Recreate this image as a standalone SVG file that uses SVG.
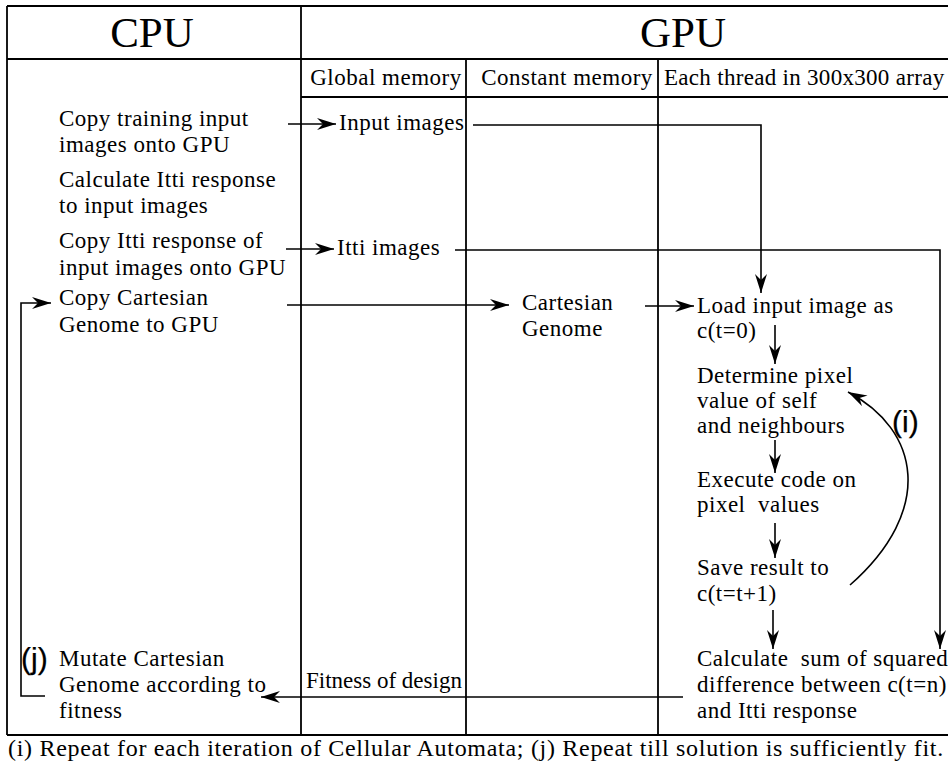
<svg xmlns="http://www.w3.org/2000/svg" width="948" height="762" viewBox="0 0 948 762">
<style>
  .t { font-family: "Liberation Serif", "Times New Roman", serif; font-size: 23px; fill: #000; letter-spacing: 0.5px; white-space: pre; }
  .h { font-family: "Liberation Serif", "Times New Roman", serif; font-size: 43px; fill: #000; text-anchor: middle; }
  .lbl { font-family: "Liberation Sans", Arial, sans-serif; font-size: 30px; fill: #000; stroke: #000; stroke-width: 0.25px; }
  .grid line { stroke: #000; stroke-width: 1.8; }
  .c path { fill: none; stroke: #000; stroke-width: 1.6; marker-end: url(#ah); }
</style>
<defs>
  <marker id="ah" markerUnits="userSpaceOnUse" markerWidth="19" markerHeight="13" viewBox="0 0 19 13" refX="19" refY="6.5" orient="auto">
    <path d="M19,6.5 L0,0.5 L6,6.5 L0,12.5 Z" fill="#000"/>
  </marker>
</defs>
<rect x="0" y="0" width="948" height="762" fill="#fff"/>
<g id="table" class="grid">
  <line x1="7" y1="6" x2="948" y2="6"/>
  <line x1="7" y1="59" x2="948" y2="59"/>
  <line x1="301" y1="97" x2="948" y2="97"/>
  <line x1="7" y1="735" x2="948" y2="735"/>
  <line x1="7" y1="6" x2="7" y2="735"/>
  <line x1="301" y1="6" x2="301" y2="735"/>
  <line x1="466" y1="59" x2="466" y2="735"/>
  <line x1="658" y1="59" x2="658" y2="735"/>
</g>
<g id="headers">
  <text class="h" x="152" y="47">CPU</text>
  <text class="h" x="683" y="47">GPU</text>
  <text class="t" x="386" y="85" text-anchor="middle">Global memory</text>
  <text class="t" x="567" y="85" text-anchor="middle">Constant memory</text>
  <text class="t" x="664" y="85" style="letter-spacing:0.3px">Each thread in 300x300 array</text>
</g>
<g id="cpu-copy-training">
  <text class="t" x="59" y="126">Copy training input</text>
  <text class="t" x="59" y="152">images onto GPU</text>
</g>
<g id="cpu-calc-itti">
  <text class="t" x="59" y="187">Calculate Itti response</text>
  <text class="t" x="59" y="213">to input images</text>
</g>
<g id="cpu-copy-itti">
  <text class="t" x="59" y="248">Copy Itti response of</text>
  <text class="t" x="59" y="275">input images onto GPU</text>
</g>
<g id="cpu-copy-genome">
  <text class="t" x="59" y="305">Copy Cartesian</text>
  <text class="t" x="59" y="332">Genome to GPU</text>
</g>
<g id="cpu-mutate">
  <text class="lbl" x="21" y="669">(j)</text>
  <text class="t" x="59" y="666">Mutate Cartesian</text>
  <text class="t" x="59" y="692">Genome according to</text>
  <text class="t" x="59" y="718">fitness</text>
</g>
<g id="gm-input">
  <text class="t" x="339" y="130">Input images</text>
</g>
<g id="gm-itti">
  <text class="t" x="337" y="255">Itti images</text>
</g>
<g id="gm-fitness">
  <text class="t" x="306" y="688" style="letter-spacing:0px">Fitness of design</text>
</g>
<g id="cm-genome">
  <text class="t" x="522" y="310">Cartesian</text>
  <text class="t" x="522" y="336">Genome</text>
</g>
<g id="th-load">
  <text class="t" x="697" y="313">Load input image as</text>
  <text class="t" x="697" y="338">c(t=0)</text>
</g>
<g id="th-determine">
  <text class="t" x="697" y="383">Determine pixel</text>
  <text class="t" x="697" y="408">value of self</text>
  <text class="t" x="697" y="433">and neighbours</text>
</g>
<g id="th-execute">
  <text class="t" x="697" y="487">Execute code on</text>
  <text class="t" x="697" y="512">pixel  values</text>
</g>
<g id="th-save">
  <text class="t" x="697" y="575">Save result to</text>
  <text class="t" x="697" y="601">c(t=t+1)</text>
</g>
<g id="th-calc">
  <text class="t" x="697" y="666">Calculate  sum of squared</text>
  <text class="t" x="697" y="692">difference between c(t=n)</text>
  <text class="t" x="697" y="718">and Itti response</text>
</g>
<g id="loop-i-label">
  <text class="lbl" x="892" y="432">(i)</text>
</g>
<g id="connectors" class="c">
  <path d="M288,124 H336"/>
  <path d="M473,125 H761 V293"/>
  <path d="M286,249 H334"/>
  <path d="M455,250 H940 V649"/>
  <path d="M287,305 H509"/>
  <path d="M645,306 H694"/>
  <path d="M775,325 V364"/>
  <path d="M775,440 V473"/>
  <path d="M775,523 V558"/>
  <path d="M773,610 V649"/>
  <path d="M683,697 H261"/>
  <path d="M45,696 H21 V303 H51"/>
  <path d="M850,585 C935,510 920,430 848,392"/>
</g>
<g id="caption">
  <text class="t" x="8" y="756" style="font-size:24px;letter-spacing:0.7px">(i) Repeat for each iteration of Cellular Automata; (j) Repeat till solution is sufficiently fit.</text>
</g>
</svg>
